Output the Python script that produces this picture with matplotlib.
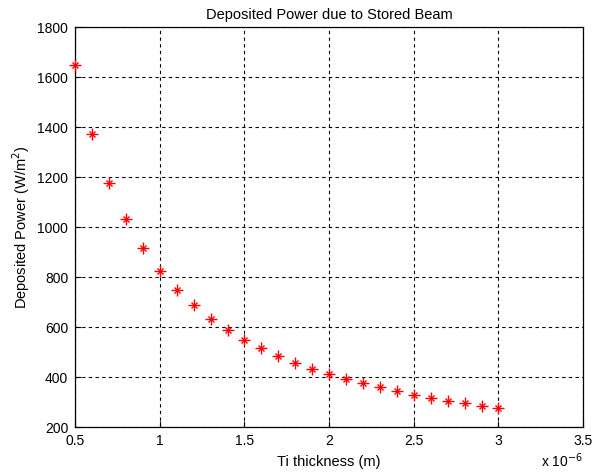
from matplotlib import pyplot as plt

plt.rcParams['font.family'] = ['Liberation Sans', 'DejaVu Sans']

# Ti thickness (in units of 1e-6 m) and deposited power (W/m^2)
thickness = [0.5, 0.6, 0.7, 0.8, 0.9, 1.0, 1.1, 1.2, 1.3, 1.4, 1.5, 1.6, 1.7,
             1.8, 1.9, 2.0, 2.1, 2.2, 2.3, 2.4, 2.5, 2.6, 2.7, 2.8, 2.9, 3.0]
power = [1650, 1373, 1177, 1031, 916, 825, 750, 687, 634, 589, 550, 516, 485,
         458, 434, 413, 393, 375, 359, 344, 330, 317, 306, 295, 284, 275]
x_ticks = [0.5, 1, 1.5, 2, 2.5, 3, 3.5]
y_ticks = [200, 400, 600, 800, 1000, 1200, 1400, 1600, 1800]

fig = plt.figure(figsize=(5.92, 4.74), dpi=100)
ax = fig.add_axes([0.127, 0.099, 0.858, 0.844])

# matlab style asterisk = plus + cross
ax.plot(thickness, power, linestyle='none', marker='+', color='red',
        markersize=8, markeredgewidth=1.0, clip_on=False, zorder=3)
ax.plot(thickness, power, linestyle='none', marker='x', color='red',
        markersize=5, markeredgewidth=1.0, clip_on=False, zorder=3)

ax.set_xlim(0.5, 3.5)
ax.set_ylim(200, 1800)
ax.set_xticks(x_ticks)
ax.set_xticklabels(['0.5', '1', '1.5', '2', '2.5', '3', '3.5'])
ax.set_yticks(y_ticks)
ax.tick_params(direction='in', length=4, labelsize=10, width=0.8, pad=5)
ax.grid(True, color='black', linestyle=(0, (3, 3)), linewidth=0.8)
for s in ax.spines.values():
    s.set_linewidth(0.9)

ax.set_title('Deposited Power due to Stored Beam', fontsize=10.5, pad=6)
ax.set_xlabel('Ti thickness (m)', fontsize=10.5, labelpad=5)
ax.set_ylabel('Deposited Power (W/m$^2$)', fontsize=10.5, labelpad=4)
fig.text(0.985, 0.008, r'x 10$^{-6}$', fontsize=10, ha='right', va='bottom')

fig.savefig('out.png')
plt.close(fig)
